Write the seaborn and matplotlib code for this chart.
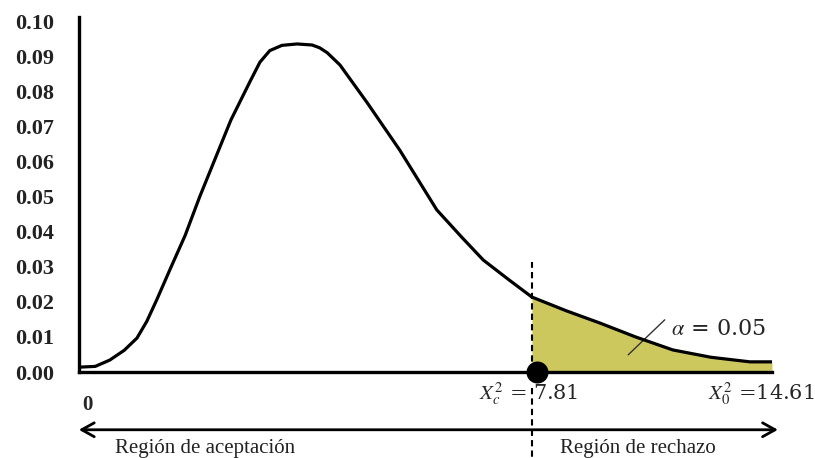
import matplotlib
matplotlib.use("Agg")
import matplotlib.pyplot as plt
import seaborn as sns
import numpy as np
import pandas as pd

# curve (x in chi-square-like units, y density)
x_vals = [0.02, 0.28, 0.53, 0.78, 1.0, 1.17, 1.34, 1.58, 1.83, 2.08, 2.34, 2.62, 2.8, 2.95,
          3.12, 3.29, 3.5, 3.76, 4.02, 4.15, 4.28, 4.5, 4.97, 5.53, 6.17, 6.6, 6.97, 7.4,
          7.81, 8.4, 8.98, 9.6, 10.24, 10.9, 11.57, 11.95]
y_vals = [0.0014, 0.0016, 0.0034, 0.0062, 0.0097, 0.0145, 0.0206, 0.0297, 0.0390, 0.0500,
          0.0606, 0.0720, 0.0780, 0.0830, 0.0885, 0.0918, 0.0933, 0.0937, 0.0934, 0.0926,
          0.0912, 0.0877, 0.0769, 0.0634, 0.0463, 0.0385, 0.0320, 0.0265, 0.0214, 0.0175,
          0.0140, 0.0100, 0.0063, 0.0042, 0.0029, 0.0029]
y_ticks = [0.00, 0.01, 0.02, 0.03, 0.04, 0.05, 0.06, 0.07, 0.08, 0.09, 0.10]
x_crit = 7.81
x_obs_label = "14.61"
alpha_label = "0.05"

df = pd.DataFrame({"x": x_vals, "y": y_vals})

sns.set_style("white")
plt.rcParams["font.family"] = ["Liberation Serif", "DejaVu Serif"]
plt.rcParams["mathtext.fontset"] = "stix"

fig = plt.figure(figsize=(8.15, 4.58), dpi=100)
ax = fig.add_axes([79 / 815, 86 / 458, 693 / 815, 355 / 458])

tail = df[df["x"] >= x_crit]
ax.fill_between(tail["x"], 0, tail["y"], color="#cdc85e", lw=0, zorder=1)
sns.lineplot(data=df, x="x", y="y", ax=ax, color="black", lw=2.3, zorder=3)

ax.set_xlim(0, 11.95)
ax.set_ylim(0, 0.1014)
ax.set_yticks(y_ticks)
ax.set_yticklabels([f"{t:.2f}" for t in y_ticks], fontsize=16, fontweight="bold",
                   color="#222222")
ax.set_xticks([])
ax.set_xlabel("")
ax.set_ylabel("")
ax.tick_params(axis="y", length=0, pad=18)
for s in ["top", "right"]:
    ax.spines[s].set_visible(False)
for s in ["left", "bottom"]:
    ax.spines[s].set_linewidth(2.4)
    ax.spines[s].set_color("black")

# critical value: dashed line and dot
ax.plot([x_crit, x_crit], [0, 0.0315], ls=(0, (3, 2)), color="black", lw=1.5, zorder=2)
ax.plot([x_crit, x_crit], [-0.0045, -0.026], ls=(0, (3, 2)), color="black", lw=1.5,
        clip_on=False)
ax.scatter([x_crit + 0.08], [0], s=220, color="black", zorder=5, clip_on=False)

# alpha annotation
ax.plot([9.47, 10.1], [0.0049, 0.0149], color="#333333", lw=1)
ax.text(10.2, 0.0122, "$\\alpha$ = " + alpha_label, fontsize=16, va="center",
        family=["DejaVu Serif"])

# labels under the axis
ax.text(x_crit - 0.05, -0.0062, "$X^2_{c}$ = " + "7.81", fontsize=15, ha="center",
        va="center", clip_on=False, family=["DejaVu Serif"])
ax.text(12.69, -0.0062, "$X^2_{0}$ =" + x_obs_label, fontsize=15, ha="right",
        va="center", clip_on=False, family=["DejaVu Serif"])
ax.text(0.15, -0.0095, "0", fontsize=15, fontweight="bold", ha="center", va="center",
        clip_on=False)

# acceptance / rejection arrow
ax.annotate("", xy=(-0.05, -0.0165), xytext=(12.1, -0.0165),
            arrowprops=dict(arrowstyle="<->,head_length=0.9,head_width=0.5", lw=2,
                            color="black"), annotation_clip=False)
ax.text(0.62, -0.0218, "Región de aceptación", fontsize=15, va="center", clip_on=False,
        color="#222222")
ax.text(8.3, -0.0218, "Región de rechazo", fontsize=15, va="center", clip_on=False,
        color="#222222")

fig.savefig("out.png", dpi=100)
